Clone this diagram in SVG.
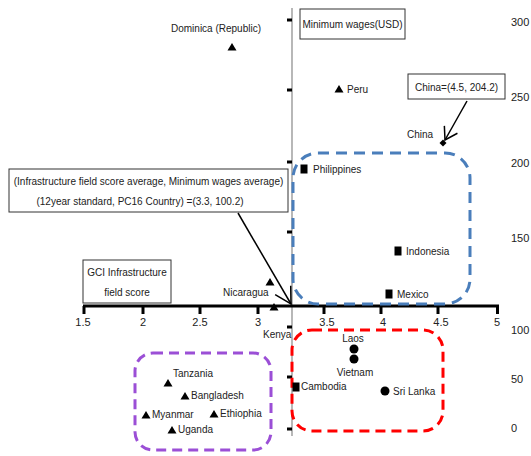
<svg xmlns="http://www.w3.org/2000/svg" xmlns:xlink="http://www.w3.org/1999/xlink" width="531" height="456" viewBox="0 0 531 456">
<style>
text{font-family:"Liberation Sans","DejaVu Sans",sans-serif;fill:#222;}
.lbl{font-size:10px;}
.ax{font-size:11px;}
.box{fill:#fff;stroke:#333;stroke-width:1;}
.tick{stroke:#000;stroke-width:3;}
.conn{stroke:#000;stroke-width:1.5;fill:none;}
</style>
<defs>
<path id="tri" d="M0,-4 L4.5,3.5 L-4.5,3.5 Z" fill="#000"/>
<rect id="sq" x="-3.5" y="-4.5" width="7" height="9" fill="#000"/>
<circle id="dot" r="4.5" fill="#000"/>
<marker id="open" markerUnits="userSpaceOnUse" markerWidth="30" markerHeight="30" orient="auto" overflow="visible">
<path d="M-16,-9 L0,0 L-16,9" fill="none" stroke="#000" stroke-width="1.5"/>
</marker>
<marker id="open2" markerUnits="userSpaceOnUse" markerWidth="30" markerHeight="30" orient="auto" overflow="visible">
<path d="M-12,-7.5 L0,0 L-12,7.5" fill="none" stroke="#000" stroke-width="1.5"/>
</marker>
</defs>
<rect width="531" height="456" fill="#fff"/>

<g id="axes">
<line x1="292" y1="8" x2="292" y2="436" stroke="#888" stroke-width="1.2"/>
<g class="tick">
<line x1="287" y1="20" x2="292" y2="20"/><line x1="287" y1="90" x2="292" y2="90"/>
<line x1="287" y1="162" x2="292" y2="162"/><line x1="287" y1="232" x2="292" y2="232"/>
<line x1="287" y1="327" x2="292" y2="327"/><line x1="287" y1="377" x2="292" y2="377"/>
<line x1="287" y1="429" x2="292" y2="429"/>
</g>
<line x1="83" y1="306" x2="499" y2="306" stroke="#000" stroke-width="3"/>
<g class="tick">
<line x1="84" y1="306" x2="84" y2="314"/><line x1="143" y1="306" x2="143" y2="314"/>
<line x1="200" y1="306" x2="200" y2="314"/><line x1="258" y1="306" x2="258" y2="314"/>
<line x1="324" y1="306" x2="324" y2="314"/><line x1="381" y1="306" x2="381" y2="314"/>
<line x1="438" y1="306" x2="438" y2="314"/><line x1="497.5" y1="306" x2="497.5" y2="314"/>
</g>
<g class="ax" text-anchor="middle">
<text x="83" y="326">1.5</text><text x="143" y="326">2</text><text x="200" y="326">2.5</text>
<text x="258" y="326">3</text><text x="327" y="326">3.5</text><text x="383" y="326">4</text>
<text x="441" y="326">4.5</text><text x="497" y="326">5</text>
</g>
<g class="ax">
<text x="511" y="26">300</text><text x="511" y="101">250</text><text x="511" y="167">200</text>
<text x="511" y="242">150</text><text x="511" y="334">100</text><text x="511" y="383">50</text>
<text x="511" y="432">0</text>
</g>
</g>

<g id="groups" fill="none" stroke-width="3">
<rect x="293" y="153" width="177" height="151" rx="25" stroke="#4a7ebb" stroke-dasharray="11 7"/>
<rect x="292" y="330" width="151" height="101" rx="20" stroke="#ff0000" stroke-dasharray="10 6"/>
<rect x="135" y="353" width="136" height="97" rx="18" stroke="#9b4fd6" stroke-dasharray="10 6"/>
</g>

<g id="box-minwage"><rect class="box" x="300" y="9" width="105" height="30"/><text class="lbl" x="352.5" y="28" text-anchor="middle">Minimum wages(USD)</text></g>
<g id="box-china"><rect class="box" x="408" y="74" width="97" height="25"/><text class="lbl" x="456.5" y="91" text-anchor="middle">China=(4.5, 204.2)</text></g>
<g id="box-average"><rect class="box" x="9" y="169" width="279" height="43"/>
<text class="lbl" x="148.5" y="185" text-anchor="middle">(Infrastructure field score average, Minimum wages average)</text>
<text class="lbl" x="140" y="205" text-anchor="middle">(12year standard, PC16 Country) =(3.3, 100.2)</text></g>
<g id="box-gci"><rect class="box" x="83" y="260" width="88" height="43"/>
<text class="lbl" x="127" y="276" text-anchor="middle">GCI Infrastructure</text>
<text class="lbl" x="127" y="296" text-anchor="middle">field score</text></g>

<g id="connectors">
<line class="conn" x1="238" y1="213" x2="291" y2="304" marker-end="url(#open)"/>
<line class="conn" x1="467" y1="101" x2="445" y2="140" marker-end="url(#open2)"/>
</g>

<g id="dominica"><use href="#tri" x="232" y="47"/><text class="lbl" x="216" y="32" text-anchor="middle">Dominica (Republic)</text></g>
<g id="peru"><use href="#tri" x="339" y="89"/><text class="lbl" x="347" y="93">Peru</text></g>
<g id="china"><path d="M443,139.5 L446.5,143 L443,146.5 L439.5,143 Z" fill="#000"/><text class="lbl" x="407" y="138">China</text></g>
<g id="philippines"><use href="#sq" x="304" y="169"/><text class="lbl" x="313" y="173">Philippines</text></g>
<g id="indonesia"><use href="#sq" x="398" y="251"/><text class="lbl" x="406" y="255">Indonesia</text></g>
<g id="mexico"><use href="#sq" x="389" y="294"/><text class="lbl" x="397" y="298">Mexico</text></g>
<g id="nicaragua"><use href="#tri" x="270" y="282"/><text class="lbl" x="223" y="296">Nicaragua</text></g>
<g id="kenya"><use href="#tri" x="274" y="307"/><text class="lbl" x="263" y="338">Kenya</text></g>
<g id="laos"><use href="#dot" x="354" y="349"/><text class="lbl" x="353" y="342" text-anchor="middle">Laos</text></g>
<g id="vietnam"><use href="#dot" x="354" y="359"/><text class="lbl" x="355" y="376" text-anchor="middle">Vietnam</text></g>
<g id="cambodia"><use href="#sq" x="296" y="387"/><text class="lbl" x="301" y="390">Cambodia</text></g>
<g id="srilanka"><use href="#dot" x="385" y="391"/><text class="lbl" x="393" y="395">Sri Lanka</text></g>
<g id="tanzania"><use href="#tri" x="168" y="383"/><text class="lbl" x="173" y="377">Tanzania</text></g>
<g id="bangladesh"><use href="#tri" x="185" y="396"/><text class="lbl" x="191" y="399">Bangladesh</text></g>
<g id="myanmar"><use href="#tri" x="146" y="415"/><text class="lbl" x="152" y="418">Myanmar</text></g>
<g id="ethiophia"><use href="#tri" x="214" y="414"/><text class="lbl" x="220" y="417">Ethiophia</text></g>
<g id="uganda"><use href="#tri" x="172" y="430"/><text class="lbl" x="178" y="433">Uganda</text></g>
</svg>
